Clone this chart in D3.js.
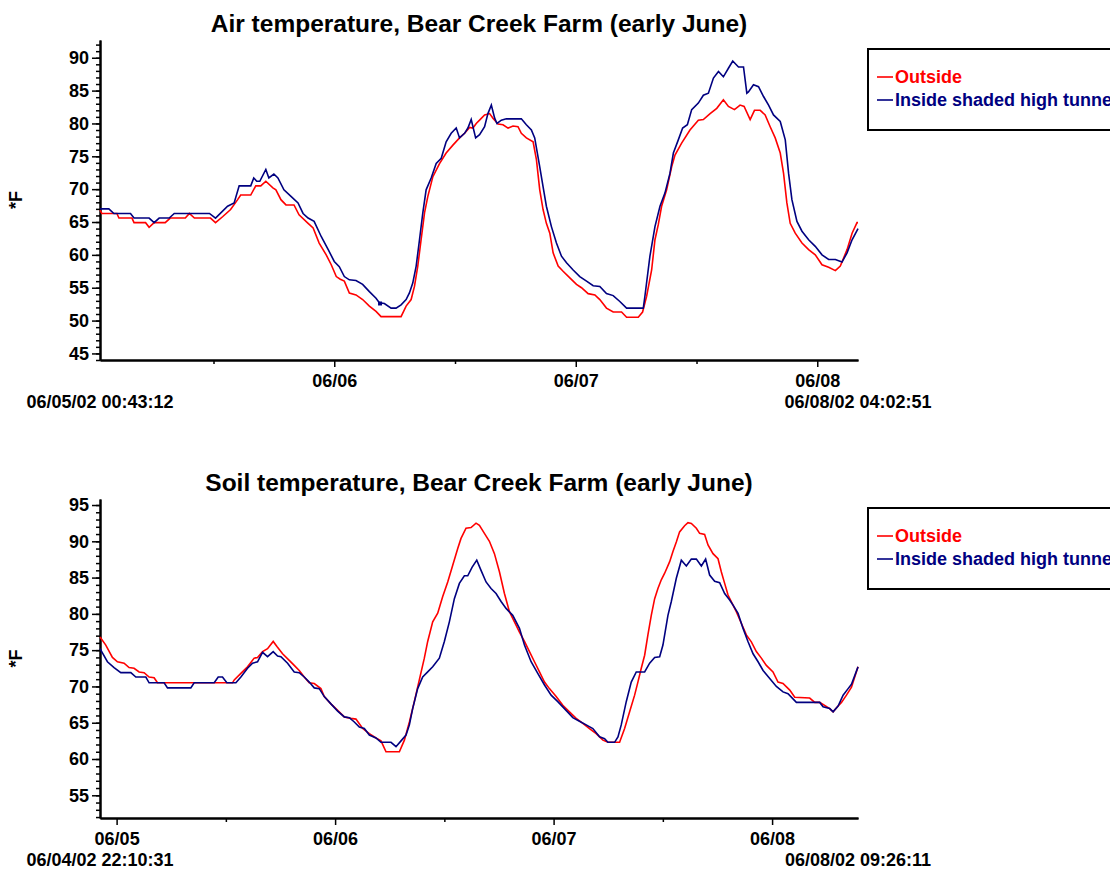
<!DOCTYPE html>
<html>
<head>
<meta charset="utf-8">
<script src="https://cdn.jsdelivr.net/npm/d3@7"></script>
<style>
body { margin: 0; background: #fff; }
svg text { font-family: "Liberation Sans", Arial, sans-serif; font-weight: bold; }
</style>
</head>
<body>
<script>
// [hours after 06/05/02 00:00, deg F]
var air_outside = [[0.72,66.8],[0.9,66.3],[2.4,66.3],[2.6,65.6],[3.9,65.6],[4.1,64.9],[5.25,64.9],[5.6,64.2],[6.1,64.9],[7.2,64.9],[7.7,65.6],[9.2,65.6],[9.6,66.3],[10.1,65.6],[11.7,65.6],[12.2,64.9],[12.9,65.8],[13.7,66.9],[14.4,68.4],[14.7,69.1],[15.7,69.1],[16.2,70.5],[16.7,70.5],[17.2,71.2],[17.9,70.2],[18.2,69.9],[18.7,68.4],[19.2,67.6],[20.0,67.6],[20.5,66.1],[21.4,64.8],[21.9,64.1],[22.5,61.8],[23.2,60.0],[23.7,58.5],[24.2,56.7],[24.6,56.3],[25.0,56.0],[25.5,54.2],[26.16,53.9],[26.82,53.2],[27.49,52.2],[28.15,51.4],[28.65,50.6],[30.64,50.6],[31.14,52.2],[31.64,53.2],[31.97,55.2],[32.3,58.3],[32.63,62.3],[32.97,66.4],[33.3,68.9],[33.8,71.9],[34.46,73.9],[35.12,75.5],[35.79,76.7],[36.45,77.8],[36.95,78.5],[37.45,79.4],[37.78,79.3],[38.11,80.0],[38.44,80.5],[38.94,81.3],[39.44,81.5],[39.77,80.8],[40.27,79.9],[40.77,79.8],[41.27,79.3],[41.76,79.6],[42.26,79.5],[42.59,78.5],[43.09,77.8],[43.76,77.2],[44.09,74.5],[44.42,69.9],[44.75,66.9],[45.08,64.8],[45.42,63.3],[45.75,60.3],[46.25,58.3],[46.74,57.5],[47.41,56.5],[48.07,55.5],[48.57,55.0],[49.23,54.1],[49.9,53.9],[50.39,53.2],[51.05,51.9],[51.72,51.3],[52.55,51.3],[53.05,50.5],[54.21,50.5],[54.64,51.3],[55.04,53.7],[55.54,57.7],[55.87,62.3],[56.2,64.6],[56.53,67.4],[57.03,69.9],[57.53,73.4],[57.86,75.2],[58.52,77.0],[59.35,79.0],[60.18,80.5],[60.68,80.6],[61.35,81.5],[62.01,82.3],[62.67,83.6],[63.17,82.6],[63.77,82.1],[64.33,82.8],[64.73,82.6],[65.33,80.6],[65.76,82.0],[66.33,82.0],[66.82,81.3],[67.32,79.5],[67.82,77.8],[68.32,75.5],[68.65,72.4],[68.98,67.9],[69.31,64.8],[69.81,63.3],[70.48,61.8],[71.14,60.8],[71.8,60.0],[72.47,58.5],[73.13,58.1],[73.8,57.6],[74.29,58.3],[74.96,60.8],[75.46,63.3],[75.95,64.9],[76.05,64.9]];

var air_inside = [[0.72,67.0],[1.6,67.0],[2.1,66.3],[3.75,66.3],[4.1,65.6],[5.6,65.6],[6.1,64.9],[6.6,65.6],[7.6,65.6],[8.1,66.3],[11.6,66.3],[12.2,65.6],[13.4,67.4],[14.05,67.9],[14.55,70.5],[15.7,70.5],[16.0,71.7],[16.3,71.2],[16.6,71.2],[17.2,73.0],[17.5,71.7],[18.0,72.3],[18.4,71.7],[19.0,69.9],[19.7,68.9],[20.4,67.9],[20.9,66.3],[21.4,65.6],[22.0,65.1],[22.7,62.8],[23.4,60.8],[24.0,59.0],[24.5,58.2],[25.0,56.7],[25.5,56.2],[26.16,56.1],[26.82,55.5],[27.49,54.4],[28.15,53.4],[28.48,52.7],[28.98,52.6],[29.65,51.9],[30.14,51.9],[30.64,52.4],[31.14,53.2],[31.47,54.2],[31.8,55.7],[32.14,58.3],[32.47,62.3],[32.8,66.4],[33.13,69.9],[33.63,71.7],[34.13,73.9],[34.63,74.7],[35.12,77.2],[35.62,78.5],[36.12,79.3],[36.45,77.8],[36.95,78.5],[37.28,79.3],[37.61,80.6],[38.05,77.8],[38.44,78.3],[38.94,79.5],[39.27,81.5],[39.61,82.8],[39.94,80.8],[40.17,80.0],[40.6,80.5],[41.1,80.7],[42.59,80.7],[43.09,79.8],[43.59,79.0],[43.92,77.8],[44.42,73.4],[44.75,70.4],[45.08,67.4],[45.58,64.3],[46.08,61.8],[46.58,59.8],[47.08,58.8],[47.74,57.7],[48.4,56.7],[49.07,56.0],[49.73,55.3],[50.39,55.2],[51.05,54.1],[51.72,53.8],[52.38,52.9],[53.05,51.9],[54.71,51.9],[54.87,53.7],[55.37,59.8],[55.87,64.3],[56.37,67.4],[56.86,69.4],[57.36,72.4],[57.7,75.5],[58.19,77.5],[58.62,79.3],[59.09,79.8],[59.52,82.1],[60.18,83.1],[60.68,84.3],[61.18,84.6],[61.68,86.9],[62.18,87.9],[62.67,87.1],[63.17,88.4],[63.6,89.5],[64.17,88.6],[64.67,88.6],[65.0,84.6],[65.16,84.8],[65.66,85.9],[66.16,85.6],[66.66,84.1],[67.16,82.8],[67.65,81.3],[68.32,80.3],[68.82,77.5],[69.15,72.4],[69.48,68.4],[69.98,65.1],[70.48,63.6],[71.14,62.3],[71.8,61.3],[72.47,60.0],[73.13,59.3],[73.8,59.3],[74.46,58.9],[74.96,60.3],[75.46,62.3],[76.05,64.0]];

// odd dark dot on the inside trace
var air_inside_marks = [[28.55,52.6]];

var soil_outside = [[-1.825,76.8],[-1.19,75.7],[-0.46,74.0],[0.09,73.4],[0.82,73.2],[1.37,72.6],[1.92,72.5],[2.47,72.0],[3.02,71.9],[3.57,71.3],[4.12,71.2],[4.49,70.5],[12.73,70.5],[12.92,70.9],[13.65,71.8],[14.38,72.7],[15.11,73.9],[15.48,74.0],[16.03,74.8],[16.58,75.2],[17.2,76.2],[17.61,75.5],[18.23,74.5],[18.96,73.6],[19.51,72.9],[20.06,72.2],[20.61,71.3],[21.16,70.5],[21.71,70.4],[22.44,69.7],[22.81,68.6],[23.54,67.6],[24.28,66.7],[25.01,65.8],[25.74,65.6],[26.29,65.5],[27.03,64.2],[27.76,63.5],[28.49,62.9],[29.04,62.5],[29.59,61.0],[31.06,61.0],[31.61,62.6],[32.16,65.1],[32.7,67.9],[33.25,70.9],[33.8,73.9],[34.17,76.2],[34.72,78.9],[35.27,80.1],[35.82,82.4],[36.37,84.4],[36.92,86.7],[37.47,89.0],[37.83,90.4],[38.38,91.8],[38.93,91.9],[39.48,92.5],[39.85,92.2],[40.4,91.1],[40.95,90.0],[41.5,88.3],[42.05,85.8],[42.6,82.8],[43.15,80.3],[43.7,78.9],[44.25,77.5],[44.8,76.2],[45.35,74.8],[45.9,73.4],[46.45,72.0],[47.0,70.6],[47.54,69.7],[48.28,68.6],[49.01,67.4],[49.74,66.5],[50.48,65.6],[51.21,64.9],[51.94,64.2],[52.68,63.5],[53.05,63.05],[53.42,62.6],[53.97,62.3],[55.25,62.3],[55.8,64.2],[56.35,66.5],[56.9,68.8],[57.26,70.6],[57.63,72.5],[58.0,74.3],[58.36,77.1],[58.73,79.8],[59.1,82.1],[59.46,83.5],[59.83,84.7],[60.2,85.6],[60.75,87.2],[61.11,88.6],[61.48,89.9],[61.84,91.3],[62.39,92.15],[62.76,92.56],[63.13,92.47],[63.68,91.8],[64.04,91.1],[64.59,90.95],[64.96,89.5],[65.51,88.3],[66.06,87.6],[66.42,85.8],[66.79,84.2],[67.16,82.6],[67.71,81.2],[68.07,80.3],[68.62,78.7],[69.17,77.1],[69.72,76.15],[70.27,74.8],[70.82,73.9],[71.37,72.9],[72.1,72.0],[72.65,70.6],[73.2,70.4],[73.94,69.5],[74.49,68.5],[76.13,68.4],[76.69,67.8],[77.23,67.8],[78.33,66.95],[78.7,66.5],[79.25,67.3],[79.62,67.8],[80.17,68.8],[80.72,69.9],[81.44,72.7]];

var soil_inside = [[-1.825,75.2],[-1.01,73.4],[-0.28,72.6],[0.46,71.9],[1.56,71.9],[2.11,71.3],[3.21,71.3],[3.57,70.5],[5.22,70.5],[5.59,69.8],[8.15,69.8],[8.52,70.5],[10.72,70.5],[11.16,71.3],[11.63,71.3],[12.11,70.5],[13.1,70.5],[13.65,71.3],[14.38,72.5],[14.93,73.2],[15.48,73.4],[16.03,74.7],[16.58,74.1],[17.2,74.8],[17.68,74.2],[18.05,74.1],[18.78,73.2],[19.51,72.0],[20.06,71.9],[20.61,71.3],[21.16,70.6],[21.71,69.8],[22.26,69.7],[22.81,68.6],[23.54,67.6],[24.28,66.6],[25.01,65.8],[25.56,65.7],[26.11,65.1],[26.66,64.4],[27.21,64.2],[27.76,63.3],[28.49,62.9],[29.04,62.3],[30.14,62.3],[30.69,61.7],[31.24,62.5],[31.79,63.3],[32.16,64.7],[32.52,66.95],[33.07,69.7],[33.62,71.3],[34.17,72.0],[34.72,72.7],[35.45,73.9],[36.0,76.2],[36.55,78.9],[37.1,82.1],[37.65,84.2],[38.2,85.25],[38.57,85.25],[39.04,86.4],[39.56,87.4],[40.03,86.0],[40.58,84.4],[41.13,83.5],[41.68,82.8],[42.23,81.7],[42.78,80.75],[43.51,79.8],[44.25,78.0],[44.8,75.7],[45.53,73.4],[46.26,71.8],[47.0,70.2],[47.73,68.8],[48.46,67.9],[49.19,66.95],[50.11,65.7],[50.84,65.2],[51.58,64.7],[52.31,64.2],[53.05,63.05],[53.6,62.8],[53.97,62.3],[54.7,62.3],[55.07,63.05],[55.43,64.7],[55.98,67.9],[56.53,70.6],[57.08,72.0],[58.0,72.0],[58.55,73.2],[59.1,74.0],[59.65,74.1],[60.01,75.7],[60.56,79.8],[60.93,81.7],[61.48,84.9],[62.03,87.4],[62.58,86.6],[63.13,87.55],[63.68,87.55],[64.23,86.6],[64.7,87.55],[65.14,85.35],[65.69,84.5],[66.24,84.3],[66.79,82.8],[67.34,81.9],[67.71,81.2],[68.26,80.06],[68.81,78.0],[69.36,76.15],[69.91,74.5],[70.46,73.4],[71.01,72.2],[71.74,71.1],[72.47,70.0],[73.2,69.25],[73.75,69.0],[74.67,67.8],[77.23,67.8],[77.6,67.2],[78.33,66.95],[78.7,66.5],[79.25,67.3],[79.8,68.8],[80.35,69.7],[80.72,70.3],[81.44,72.7]];

var air_y_ticks = [45,50,55,60,65,70,75,80,85,90];
var soil_y_ticks = [55,60,65,70,75,80,85,90,95];
var series_names = ['Outside', 'Inside shaded high tunnel'];
var series_colors = ['#ff0000', '#000080'];

var base_day = new Date(2002, 5, 5);
function hr(h) { return new Date(base_day.getTime() + h*3600*1000) }
var fmt_stamp = d3.timeFormat('%m/%d/%y %H:%M:%S');

var svg = d3.select('body').append('svg').attr('width', 1110).attr('height', 869);

var left_pad = 100, plot_w = 758;

function draw_chart(c) {
	var g = svg.append('g').attr('transform', 'translate('+left_pad+','+c.top+')');
	var x = d3.scaleTime().domain([c.start, c.end]).range([0, plot_w]);
	var y = d3.scaleLinear().domain(c.y_dom).range([c.h, 0]);

	// y minor ticks every degree
	var minors = d3.range(Math.ceil(c.y_dom[0]), c.y_dom[1], 1);
	g.append('g').attr('class', 'ax')
		.call(d3.axisLeft(y).tickValues(minors).tickSize(4).tickSizeOuter(0).tickFormat(''));
	g.append('g').attr('class', 'ax')
		.call(d3.axisLeft(y).tickValues(c.y_ticks).tickSize(8).tickSizeOuter(0).tickPadding(3).tickFormat(d3.format('d')));

	var days = d3.timeDay.range(d3.timeDay.ceil(c.start), c.end);
	var noons = d3.timeHour.range(c.start, c.end).filter(d => d.getHours() == 12);
	g.append('g').attr('class', 'ax').attr('transform', 'translate(0,'+c.h+')')
		.call(d3.axisBottom(x).tickValues(noons).tickSize(4).tickSizeOuter(0).tickFormat(''));
	g.append('g').attr('class', 'ax').attr('transform', 'translate(0,'+c.h+')')
		.call(d3.axisBottom(x).tickValues(days).tickSize(7).tickSizeOuter(0).tickPadding(7).tickFormat(d3.timeFormat('%m/%d')));

	g.selectAll('.ax path.domain').attr('stroke', '#000').attr('stroke-width', 2);
	g.selectAll('.ax .tick line').attr('stroke', '#000').attr('stroke-width', 1.5);
	g.selectAll('.ax text').attr('fill', '#000').style('font-size', '18px')
		.style('font-family', '"Liberation Sans", Arial, sans-serif').style('font-weight', 'bold');

	// start / end stamps
	g.append('text').attr('x', 0).attr('y', c.h + 48).attr('text-anchor', 'middle')
		.style('font-size', '18px').text(fmt_stamp(c.start));
	g.append('text').attr('x', plot_w).attr('y', c.h + 48).attr('text-anchor', 'middle')
		.style('font-size', '18px').text(fmt_stamp(c.end));

	g.append('text').attr('x', plot_w/2).attr('y', -8).attr('text-anchor', 'middle')
		.style('font-size', '24.5px').text(c.title);

	g.append('text').attr('transform', 'translate(-78,'+(c.h/2)+') rotate(-90)')
		.attr('text-anchor', 'middle').style('font-size', '18px').text('*F');

	var line = d3.line().x(d => x(hr(d[0]))).y(d => y(d[1]));
	c.series.forEach((s, i) => {
		g.append('path').datum(s).attr('d', line)
			.attr('fill', 'none').attr('stroke', series_colors[i]).attr('stroke-width', 1.6);
	});
	if (c.marks) {
		g.selectAll('.mk').data(c.marks).enter().append('rect')
			.attr('x', d => x(hr(d[0])) - 2).attr('y', d => y(d[1]) - 2)
			.attr('width', 4).attr('height', 4).attr('fill', series_colors[1]);
	}

	// legend
	var lg = g.append('g').attr('transform', 'translate(768,9)');
	lg.append('rect').attr('width', 300).attr('height', 81)
		.attr('fill', '#fff').attr('stroke', '#000').attr('stroke-width', 2);
	series_names.forEach((n, i) => {
		lg.append('line').attr('x1', 9).attr('x2', 25).attr('y1', 28 + i*23).attr('y2', 28 + i*23)
			.attr('stroke', series_colors[i]).attr('stroke-width', 1.6);
		lg.append('text').attr('x', 27).attr('y', 34 + i*23).attr('fill', series_colors[i])
			.style('font-size', '18px').text(n);
	});
}

draw_chart({
	top: 40, h: 320, y_dom: [44, 92.7], y_ticks: air_y_ticks,
	start: new Date(2002, 5, 5, 0, 43, 12), end: new Date(2002, 5, 8, 4, 2, 51),
	title: 'Air temperature, Bear Creek Farm (early June)',
	series: [air_outside, air_inside], marks: air_inside_marks
});

draw_chart({
	top: 499, h: 319, y_dom: [51.87, 95.83], y_ticks: soil_y_ticks,
	start: new Date(2002, 5, 4, 22, 10, 31), end: new Date(2002, 5, 8, 9, 26, 11),
	title: 'Soil temperature, Bear Creek Farm (early June)',
	series: [soil_outside, soil_inside]
});
</script>
</body>
</html>
